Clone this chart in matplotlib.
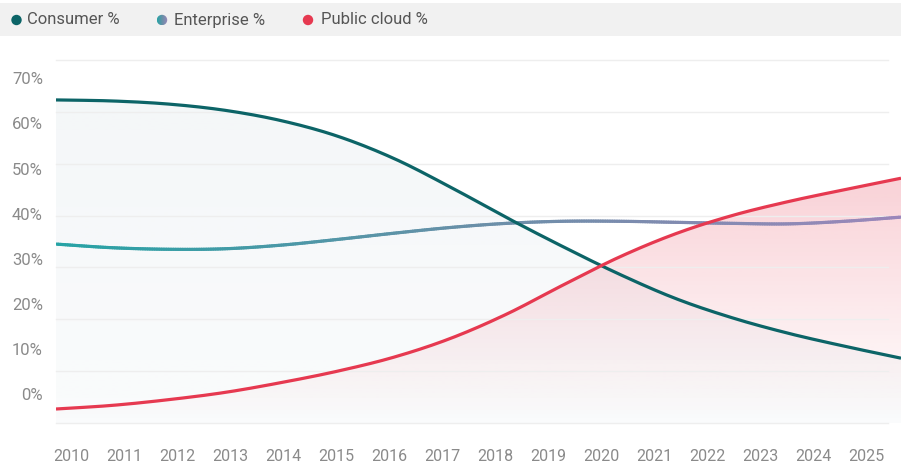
import numpy as np
import matplotlib
matplotlib.use("Agg")
import matplotlib.pyplot as plt
from matplotlib.collections import LineCollection
from matplotlib.colors import LinearSegmentedColormap, to_rgb
from matplotlib.patches import Rectangle, Circle, Polygon

plt.rcParams['font.family'] = ['Roboto', 'DejaVu Sans']

years = np.arange(2010, 2026)
consumer = [62.3, 62.1, 61.5, 60.3, 58.3, 55.3, 51.0, 45.5, 39.6, 34.0, 28.7, 24.0, 20.3, 17.3, 14.8, 12.5]
enterprise = [34.5, 33.8, 33.5, 33.6, 34.3, 35.4, 36.6, 37.7, 38.5, 38.9, 38.9, 38.7, 38.5, 38.4, 38.9, 39.7]
public_cloud = [2.7, 3.4, 4.5, 5.9, 7.8, 10.0, 12.7, 16.3, 21.0, 26.6, 32.0, 36.5, 40.0, 42.7, 45.0, 47.2]
ytick_labels = ["0%", "10%", "20%", "30%", "40%", "50%", "60%", "70%"]
legend_labels = ["Consumer %", "Enterprise %", "Public cloud %"]

C_CONS = "#0c6467"
C_PUB = "#e63950"
ent_cmap = LinearSegmentedColormap.from_list("ent", ["#26a3a5", "#6a8fa8", "#9b87ba"])


def smooth(xs, ys, n=24):
    # catmull-rom through the yearly points
    xs = np.asarray(xs, float)
    ys = np.asarray(ys, float)
    px = np.concatenate([[2 * xs[0] - xs[1]], xs, [2 * xs[-1] - xs[-2]]])
    py = np.concatenate([[2 * ys[0] - ys[1]], ys, [2 * ys[-1] - ys[-2]]])
    ox, oy = [], []
    t = np.linspace(0, 1, n, endpoint=False)
    for i in range(1, len(px) - 2):
        for p, out in ((px, ox), (py, oy)):
            p0, p1, p2, p3 = p[i - 1], p[i], p[i + 1], p[i + 2]
            out.extend(0.5 * (2 * p1 + (-p0 + p2) * t + (2 * p0 - 5 * p1 + 4 * p2 - p3) * t ** 2
                              + (-p0 + 3 * p1 - 3 * p2 + p3) * t ** 3))
    ox.append(xs[-1])
    oy.append(ys[-1])
    return np.array(ox), np.array(oy)


def gradient_fill(ax, x, y, color, a_top, a_bot, zorder):
    top = y.max()
    rgb = to_rgb(color)
    alphas = np.linspace(a_bot, a_top, 256)[:, None]
    img = np.zeros((256, 1, 4))
    img[:, :, :3] = rgb
    img[:, :, 3] = alphas
    im = ax.imshow(img, aspect="auto", origin="lower", extent=[x[0], x[-1], 0, top],
                   zorder=zorder, interpolation="bilinear")
    verts = np.vstack([np.column_stack([x, y]), [[x[-1], 0], [x[0], 0]]])
    poly = Polygon(verts, closed=True, facecolor="none", edgecolor="none", transform=ax.transData)
    ax.add_patch(poly)
    im.set_clip_path(poly)


W, H = 901, 468
fig = plt.figure(figsize=(W / 100, H / 100), dpi=100)
rect = [56 / W, 45 / H, 845 / W, 363 / H]
ax = fig.add_axes(rect)
ax.set_xlim(2010, 2025)
ax.set_ylim(0, 70)
for s in ax.spines.values():
    s.set_visible(False)
ax.set_xticks([])
ax.set_yticks([])

xc, yc = smooth(years, consumer)
xe, ye = smooth(years, enterprise)
xp, yp = smooth(years, public_cloud)

# area under consumer, then the red gradient on top
gradient_fill(ax, xc, yc, "#3c6e8c", 0.058, 0.025, 1)
gradient_fill(ax, xp, yp, C_PUB, 0.23, 0.0, 2)

for v in range(0, 80, 10):
    ax.axhline(v, xmin=0, xmax=832 / 845, color="#eeeeee", lw=1, zorder=3, clip_on=False)

ax.plot(xc, yc, color=C_CONS, lw=2.3, zorder=5, solid_capstyle="butt")
pts = np.column_stack([xe, ye]).reshape(-1, 1, 2)
segs = np.concatenate([pts[:-1], pts[1:]], axis=1)
lc = LineCollection(segs, cmap=ent_cmap, linewidths=2.3, zorder=4, capstyle="round")
lc.set_array((xe[:-1] - 2010) / 15)
lc.set_clim(0, 1)
ax.add_collection(lc)
ax.plot(xp, yp, color=C_PUB, lw=2.3, zorder=6, solid_capstyle="butt")

# tick labels sit on their own scale
lab = fig.add_axes(rect, frameon=False)
lab.patch.set_visible(False)
lab.set_xlim(2009.717, 2025.661)
lab.set_ylim(-6.43, 74.06)
lab.set_xticks(years)
lab.set_xticklabels([str(y) for y in years])
lab.set_yticks(range(0, 80, 10))
lab.set_yticklabels(ytick_labels)
lab.tick_params(axis="x", length=0, pad=19, labelsize=11.5, labelcolor="#8a8a8a")
lab.tick_params(axis="y", length=0, pad=9.4, labelsize=12, labelcolor="#8a8a8a")

# legend strip
leg = fig.add_axes([0, 0, 1, 1], frameon=False)
leg.axis("off")
leg.add_patch(Rectangle((0, 3), W, 33, facecolor="#f1f1f1", edgecolor="none", zorder=1))
marker_x = [16.5, 162, 308]
text_x = [27, 174, 321]
marker_c = [C_CONS, None, C_PUB]
for mx, tx, mc, name in zip(marker_x, text_x, marker_c, legend_labels):
    circ = Circle((mx, 20), 5.2, facecolor=mc if mc else "none", edgecolor="none", zorder=2)
    leg.add_patch(circ)
    if mc is None:
        g = ent_cmap(np.linspace(0, 1, 64))[None, :, :]
        im = leg.imshow(g, extent=[mx - 5.2, mx + 5.2, 25.2, 14.8], aspect="auto",
                        interpolation="bilinear", zorder=3)
        im.set_clip_path(circ)
    leg.text(tx, 20, name, fontsize=12, color="#555555", va="center", ha="left", zorder=4)
leg.set_xlim(0, W)
leg.set_ylim(H, 0)

fig.savefig("out.png", dpi=100)
